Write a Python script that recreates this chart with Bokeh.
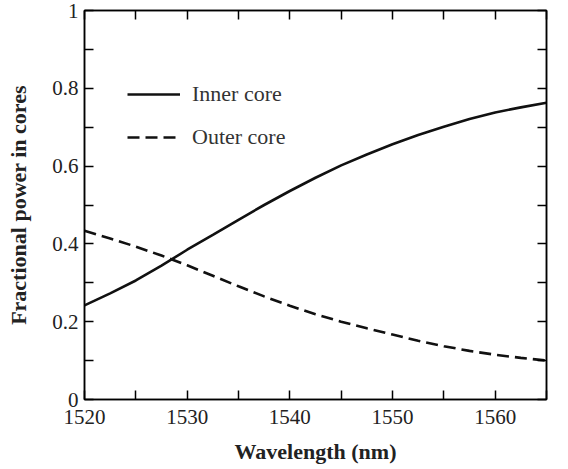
from bokeh.plotting import figure
from bokeh.models import LinearAxis, Legend, LegendItem, FixedTicker, Range1d
from bokeh.embed import file_html
from bokeh.resources import INLINE

wavelength = [1520, 1522.5, 1525, 1527.5, 1530, 1532.5, 1535, 1537.5, 1540, 1542.5,
              1545, 1547.5, 1550, 1552.5, 1555, 1557.5, 1560, 1562.5, 1565]
inner_core = [0.242, 0.273, 0.306, 0.344, 0.385, 0.423, 0.462, 0.500, 0.536, 0.570,
              0.602, 0.630, 0.656, 0.680, 0.701, 0.721, 0.738, 0.751, 0.763]
outer_core = [0.434, 0.414, 0.393, 0.370, 0.345, 0.318, 0.291, 0.265, 0.241, 0.219,
              0.200, 0.183, 0.167, 0.151, 0.137, 0.125, 0.115, 0.107, 0.100]

x_major = [1520, 1530, 1540, 1550, 1560]
x_minor = [1525, 1535, 1545, 1555, 1565]
x_all = [1520, 1525, 1530, 1535, 1540, 1545, 1550, 1555, 1560, 1565]
x_labels = {1520: "1520", 1530: "1530", 1540: "1540", 1550: "1550", 1560: "1560"}
y_major = [0, 0.2, 0.4, 0.6, 0.8, 1.0]
y_minor = [0.1, 0.3, 0.5, 0.7, 0.9]
y_all = [0, 0.1, 0.2, 0.3, 0.4, 0.5, 0.6, 0.7, 0.8, 0.9, 1.0]
y_labels = {0: "0", 0.2: "0.2", 0.4: "0.4", 0.6: "0.6", 0.8: "0.8", 1: "1"}

FONT = "Liberation Serif"

p = figure(width=552, height=466, output_backend="svg", toolbar_location=None,
           x_range=Range1d(1520, 1565), y_range=Range1d(0, 1),
           x_axis_label="Wavelength (nm)", y_axis_label="Fractional power in cores",
           min_border_left=84, min_border_right=6, min_border_top=10, min_border_bottom=0)
p.grid.visible = False
p.outline_line_color = "black"
p.outline_line_width = 1.5
p.background_fill_color = "white"
p.border_fill_color = "white"

for ax in p.xaxis:
    ax.ticker = FixedTicker(ticks=x_major, minor_ticks=x_minor)
    ax.major_label_overrides = x_labels
for ax in p.yaxis:
    ax.ticker = FixedTicker(ticks=y_major, minor_ticks=y_minor)
    ax.major_label_overrides = y_labels

for ax in list(p.xaxis) + list(p.yaxis):
    ax.axis_line_color = "black"
    ax.axis_line_width = 1.5
    ax.major_tick_in = 9
    ax.major_tick_out = 0
    ax.major_tick_line_width = 1.5
    ax.minor_tick_in = 9
    ax.minor_tick_out = 0
    ax.minor_tick_line_width = 1.5
    ax.minor_tick_line_color = "black"
    ax.major_label_text_font = FONT
    ax.major_label_text_font_size = "21px"
    ax.major_label_text_color = "#222222"
    ax.axis_label_text_font = FONT
    ax.axis_label_text_font_style = "bold"
    ax.axis_label_text_font_size = "22px"
    ax.axis_label_text_color = "#222222"

p.xaxis.major_label_standoff = 10
p.xaxis.axis_label_standoff = 12
p.yaxis.major_label_standoff = 6
p.yaxis.axis_label_standoff = 18

top_ax = LinearAxis(ticker=FixedTicker(ticks=[], minor_ticks=x_all),
                    minor_tick_in=9, minor_tick_out=0, minor_tick_line_width=1.5,
                    major_tick_in=0, major_tick_out=0, axis_line_width=1.5)
right_ax = LinearAxis(ticker=FixedTicker(ticks=[], minor_ticks=y_all),
                      minor_tick_in=9, minor_tick_out=0, minor_tick_line_width=1.5,
                      major_tick_in=0, major_tick_out=0, axis_line_width=1.5)
p.add_layout(top_ax, "above")
p.add_layout(right_ax, "right")

r_inner = p.line(wavelength, inner_core, line_color="#111111", line_width=2.6)
r_outer = p.line(wavelength, outer_core, line_color="#111111", line_width=2.6,
                 line_dash="12 6")

legend = Legend(items=[LegendItem(label="Inner core", renderers=[r_inner]),
                       LegendItem(label="Outer core", renderers=[r_outer])],
                location=(43, 249), padding=0, margin=0, spacing=17,
                glyph_width=53, glyph_height=20, label_height=20, label_standoff=12,
                label_text_font=FONT, label_text_font_size="22px",
                label_text_color="#333333",
                border_line_color=None, background_fill_alpha=0)
p.add_layout(legend)

open("out.html", "w").write(file_html(p, INLINE))
